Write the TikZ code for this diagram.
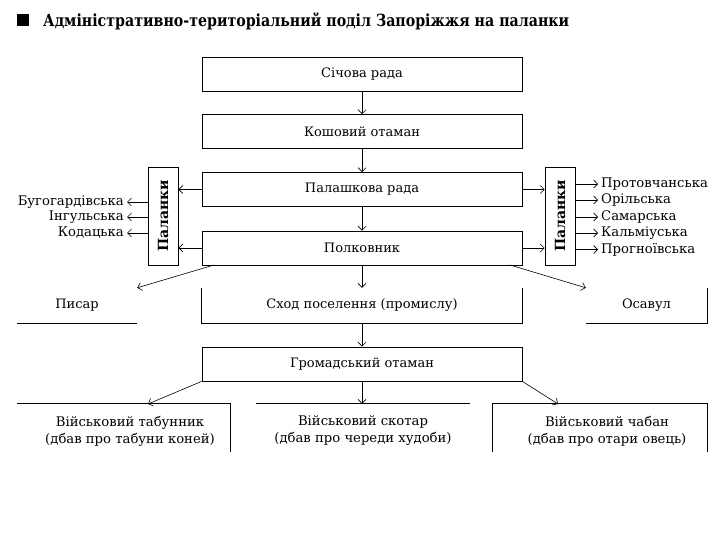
\documentclass[tikz,border=0pt]{standalone}
\usepackage{fontspec}
\setmainfont{DejaVu Serif}
\newfontfamily\titlefont{DejaVu Serif}[FakeStretch=0.85]
\usetikzlibrary{arrows.meta}
\begin{document}
\begin{tikzpicture}[x=1pt,y=-1pt,
  bodyf/.style={font=\fontsize{13}{16}\selectfont},
  box/.style={draw, line width=0.8pt, minimum width=320pt, minimum height=34pt, inner sep=0pt, bodyf},
  openbox/.style={minimum height=35pt, inner sep=0pt, bodyf},
  palbox/.style={draw, line width=0.8pt, minimum width=30pt, minimum height=98pt, inner sep=0pt},
  arr/.style={-{Straight Barb[length=4pt,width=8pt]}, line width=0.6pt},
  edge/.style={line width=0.8pt},
  lbl/.style={inner xsep=3pt, inner ysep=0pt, font=\fontsize{13.2}{15}\selectfont}]
\useasboundingbox (0,0) rectangle (720,540);
% title
\node[fill=black, minimum size=12pt, inner sep=0pt] (sq) at (23,20) {};
\node[anchor=west, inner sep=0pt, font=\titlefont\bfseries\fontsize{16.7}{19}\selectfont] (title) at (43,21) {Адміністративно-територіальний поділ Запоріжжя на паланки};
% central column
\node[box] (sich) at (362,74) {Січова рада};
\node[box] (kosh) at (362,131.5) {Кошовий отаман};
\node[box] (pala) at (362,189.5) {Палашкова рада};
\node[box] (polk) at (362,248) {Полковник};
% palanky boxes
\node[palbox] (lpal) at (163,216) {};
\node[rotate=90, font=\bfseries\fontsize{14}{16}\selectfont] (lpalt) at (lpal.center) {Паланки};
\node[palbox] (rpal) at (560,216) {};
\node[rotate=90, font=\bfseries\fontsize{14}{16}\selectfont] (rpalt) at (rpal.center) {Паланки};
% left labels
\node[lbl, anchor=east] (l1) at (127,202) {Бугогардівська};
\node[lbl, anchor=east] (l2) at (127,217) {Інгульська};
\node[lbl, anchor=east] (l3) at (127,233) {Кодацька};
% right labels
\node[lbl, anchor=west] (r1) at (598,184) {Протовчанська};
\node[lbl, anchor=west] (r2) at (598,200) {Орільська};
\node[lbl, anchor=west] (r3) at (598,217) {Самарська};
\node[lbl, anchor=west] (r4) at (598,233) {Кальміуська};
\node[lbl, anchor=west] (r5) at (598,249.5) {Прогноївська};
% third row
\node[openbox, minimum width=120pt] (pysar) at (77,305.5) {Писар};
\node[openbox, minimum width=320pt] (shod) at (362,305.5) {Сход поселення (промислу)};
\node[openbox, minimum width=121pt] (osav) at (646.5,305.5) {Осавул};
\draw[edge] (pysar.south west) -- (pysar.south east);
\draw[edge] (shod.north west) -- (shod.south west) -- (shod.south east) -- (shod.north east);
\draw[edge] (osav.south west) -- (osav.south east) -- (osav.north east);
% hromadskyi
\node[box] (hrom) at (362,364) {Громадський отаман};
% bottom row
\node[minimum width=213pt, minimum height=48pt, inner sep=0pt] (tab) at (123.5,428) {};
\node[align=center, inner sep=0pt, font=\fontsize{13.2}{17}\selectfont] (tabt) at (130,431) {Військовий табунник\\(дбав про табуни коней)};
\node[minimum width=214pt, minimum height=48pt, inner sep=0pt] (skot) at (363,428) {};
\node[align=center, inner sep=0pt, font=\fontsize{13.2}{17}\selectfont] (skott) at (363,431) {Військовий скотар\\(дбав про череди худоби)};
\node[minimum width=214pt, minimum height=48pt, inner sep=0pt] (chab) at (600,428) {};
\node[align=center, inner sep=0pt, font=\fontsize{13.2}{17}\selectfont] (chabt) at (607,431) {Військовий чабан\\(дбав про отари овець)};
\draw[edge] (tab.north west) -- (tab.north east) -- (tab.south east);
\draw[edge] (skot.north west) -- (skot.north east);
\draw[edge] (chab.south west) -- (chab.north west) -- (chab.north east) -- (chab.south east);
% coordinates for arrow ends
\coordinate (polkL) at (214,265);
\coordinate (polkR) at (510,265);
\coordinate (tabT) at (148,404);
\coordinate (chabT) at (558,404);
% vertical arrows
\draw[arr] (sich.south) -- (kosh.north);
\draw[arr] (kosh.south) -- (pala.north);
\draw[arr] (pala.south) -- (polk.north);
\draw[arr] (polk.south) -- (shod.north);
\draw[arr] (shod.south) -- (hrom.north);
% to palanky
\draw[arr] (pala.west) -- (lpal.east |- pala.west);
\draw[arr] (pala.east) -- (rpal.west |- pala.east);
\draw[arr] (polk.west) -- (lpal.east |- polk.west);
\draw[arr] (polk.east) -- (rpal.west |- polk.east);
% palanky lists
\foreach \n in {l1,l2,l3} \draw[arr] (lpal.west |- \n.east) -- (\n.east);
\foreach \n in {r1,r2,r3,r4,r5} \draw[arr] (rpal.east |- \n.west) -- (\n.west);
% diagonal arrows
\draw[arr] (polkL) -- (pysar.north east);
\draw[arr] (polkR) -- (osav.north west);
\draw[arr] (hrom.south west) -- (tabT);
\draw[arr] (hrom.south) -- (hrom.south |- skot.north);
\draw[arr] (hrom.south east) -- (chabT);
\end{tikzpicture}
\end{document}
